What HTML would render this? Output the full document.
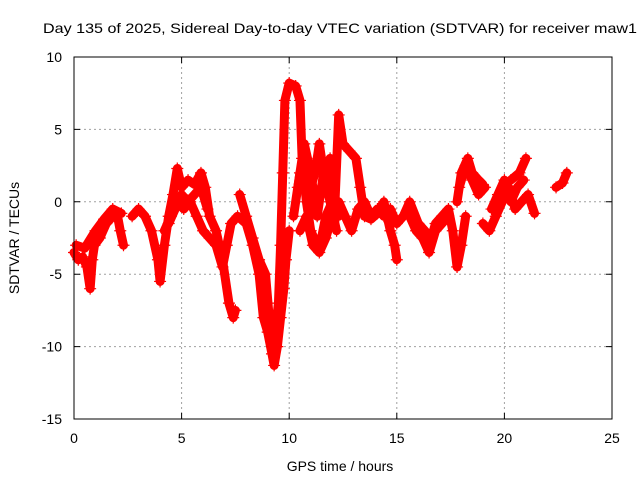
<!DOCTYPE html>
<html><head><meta charset="utf-8"><style>
html,body{margin:0;padding:0;background:#fff;}
svg text{font-family:"Liberation Sans",sans-serif;font-size:14px;fill:#000;}
</style></head><body>
<svg id="chart" width="640" height="480" viewBox="0 0 640 480" xmlns="http://www.w3.org/2000/svg">
<rect x="0" y="0" width="640" height="480" fill="#fff"/>
<text x="43" y="33" textLength="594" lengthAdjust="spacingAndGlyphs">Day 135 of 2025, Sidereal Day-to-day VTEC variation (SDTVAR) for receiver maw1</text>
<g id="grid"></g>
<g id="marks"></g>
<rect x="74" y="57" width="538" height="362" fill="none" stroke="#000" stroke-width="1"/>
<g id="axes"></g>
<text x="340" y="471" text-anchor="middle">GPS time / hours</text>
<text x="0" y="0" text-anchor="middle" transform="translate(19,238) rotate(-90)">SDTVAR / TECUs</text>
</svg>
<script>
const xTicks=[0,5,10,15,20,25];
const yTicks=[10,5,0,-5,-10,-15];
const xTickLabels=["0","5","10","15","20","25"];
const yTickLabels=["10","5","0","-5","-10","-15"];
const track1T=[0.0,0.2,0.4,0.6,0.75,0.85,0.95,1.2,1.5,1.8,2.0,2.15,2.3];
const track1V=[-3.5,-4,-3.8,-4.5,-6,-4,-3,-2.5,-1.5,-1,-0.8,-2,-3];
const track2T=[0.1,0.5,1.0,1.4,1.8,2.2];
const track2V=[-3,-3.2,-2,-1.2,-0.5,-0.8];
const track3T=[2.7,3.0,3.3,3.6,3.9,4.0,4.2,4.4,4.6,4.8,5.0,5.3,5.6,5.9,6.1,6.3,6.6,6.9,7.2,7.4,7.5];
const track3V=[-1,-0.5,-1,-2,-4,-5.5,-3,-1,0.5,2.3,1,1.5,1.2,2,1,-1,-2,-4,-7,-8,-7.5];
const track4T=[4.2,4.5,4.8,5.1,5.4,5.7,6.0,6.3,6.6,6.9,7.1,7.3,7.6,8.0,8.3,8.6,8.8,9.0,9.2,9.3,9.45,9.6,9.75,9.85,10.0];
const track4V=[-2,-1,0,-0.5,0,-1,-2,-2.5,-3,-4.5,-3,-1.5,-1,-1.5,-3,-5,-8,-9,-10.5,-11.3,-10,-8,-6,-4,-2];
const track5T=[7.7,8.0,8.3,8.6,8.9,9.1,9.3,9.5,9.6,9.7,9.8,10.0,10.3,10.5,10.6,10.8,11.0,11.3,11.5,11.7,12.0,12.3];
const track5V=[0.5,-1,-2.5,-4,-5,-8.5,-9.5,-7,-3,2,7,8.2,8,7,3,0,-2,-3,-2.5,-1,0,-1];
const track6T=[10.2,10.5,10.8,11.0,11.2,11.4,11.7,11.9,12.1,12.3,12.5,12.8,13.1,13.3,13.5,13.8,14.1,14.4,14.7,14.9,15.0];
const track6V=[-1,2,3,1,2,4,1,3,-1,6,4,3.5,3,1,-1,-1.2,-0.8,0,-2,-3,-4];
const track7T=[10.5,10.8,11.1,11.4,11.7,12.0,12.3,12.6,12.9,13.2,13.5,13.8,14.1,14.4,14.7,15.0,15.3,15.6,16.0,16.3,16.6,16.8,17.1,17.4,17.6,17.8,18.0,18.2];
const track7V=[-2,-1,-3,-3.5,-2.5,-1,0,-1,-2,-0.5,0,-1,-0.5,-1,-0.5,-1.5,-1,0,-1.5,-2,-2.5,-1.5,-1,-0.5,-2,-4.5,-3,-1];
const track8T=[17.8,18.0,18.3,18.5,18.8,19.0];
const track8V=[0,2,3,2,1.5,1.2];
const track9T=[19.0,19.3,19.6,19.9,20.2,20.5,20.8,21.1,21.4];
const track9V=[-1.5,-2,-1,0,1,-0.5,0,0.5,-0.8];
const track10T=[20.3,20.7,21.0];
const track10V=[1.5,2,3];
const track11T=[22.4,22.7,22.9];
const track11V=[1,1.3,2];
const track12T=[4.4,4.7,5.0,5.3,5.6,5.9,6.2];
const track12V=[-1.5,-0.5,0.5,0,0.5,1,-0.5];
const track13T=[10.4,10.7,11.0,11.3,11.6,11.9,12.2];
const track13V=[1,4,2,-1,2,0,-2];
const track14T=[15.6,15.9,16.2,16.5,16.8,17.1,17.4];
const track14V=[-1,-2,-2.5,-3.5,-2,-1.5,-1];
const track15T=[17.9,18.2,18.5,18.8,19.1];
const track15V=[1,2.5,1.5,0.5,1];
const track16T=[19.4,19.7,20.0,20.3,20.6,20.9];
const track16V=[-0.5,0.5,1.5,0,1,1.5];
const tracks=[[track1T,track1V],[track2T,track2V],[track3T,track3V],[track4T,track4V],[track5T,track5V],[track6T,track6V],[track7T,track7V],[track8T,track8V],[track9T,track9V],[track10T,track10V],[track11T,track11V],[track12T,track12V],[track13T,track13V],[track14T,track14V],[track15T,track15V],[track16T,track16V]];

const X0=74,X1=612,Y0=419,Y1=57;
function xs(t){return X0+(t-0)/(25-0)*(X1-X0);}
function ys(v){return Y0-(v-(-15))/(10-(-15))*(Y0-Y1);}
const NS="http://www.w3.org/2000/svg";
const grid=document.getElementById('grid'),axes=document.getElementById('axes'),marks=document.getElementById('marks');
function mk(tag,attrs,parent){const e=document.createElementNS(NS,tag);for(const k in attrs)e.setAttribute(k,attrs[k]);parent.appendChild(e);return e;}
xTicks.forEach((t,i)=>{
  const x=xs(t);
  if(i>0&&i<xTicks.length-1){const g=mk('line',{x1:x,x2:x,y1:Y1,y2:Y0,stroke:'#a0a0a0','stroke-dasharray':'2,3'},grid);
  
  }
  const tk=mk('path',{d:`M${x},${Y0}v-6M${x},${Y1}v6`,stroke:'#000'},axes);
  
  
  const lb=mk('text',{x:x,y:443,'text-anchor':'middle'},axes);lb.textContent=xTickLabels[i];
  
  
});
yTicks.forEach((v,i)=>{
  const y=ys(v);
  if(i>0&&i<yTicks.length-1){const g=mk('line',{x1:X0,x2:X1,y1:y,y2:y,stroke:'#a0a0a0','stroke-dasharray':'2,3'},grid);
  
  }
  const tk=mk('path',{d:`M${X0},${y}h6M${X1},${y}h-6`,stroke:'#000'},axes);
  
  
  const lb=mk('text',{x:62,y:y+5,'text-anchor':'end'},axes);lb.textContent=yTickLabels[i];
  
  
});
tracks.forEach(([T,V])=>{
  const pts=T.map((t,i)=>xs(t)+','+ys(V[i])).join(' ');
  const pl=mk('polyline',{points:pts,fill:'none',stroke:'#ff0000','stroke-width':9,'stroke-linejoin':'round','stroke-linecap':'round'},marks);
  
  
  T.forEach((t,i)=>{
    const x=xs(t),y=ys(V[i]);
    const p=mk('path',{d:`M${x-6},${y}h12M${x},${y-6}v12`,stroke:'#ff0000','stroke-width':1.2},marks);
    
    
  });
});
</script>
</body></html>
